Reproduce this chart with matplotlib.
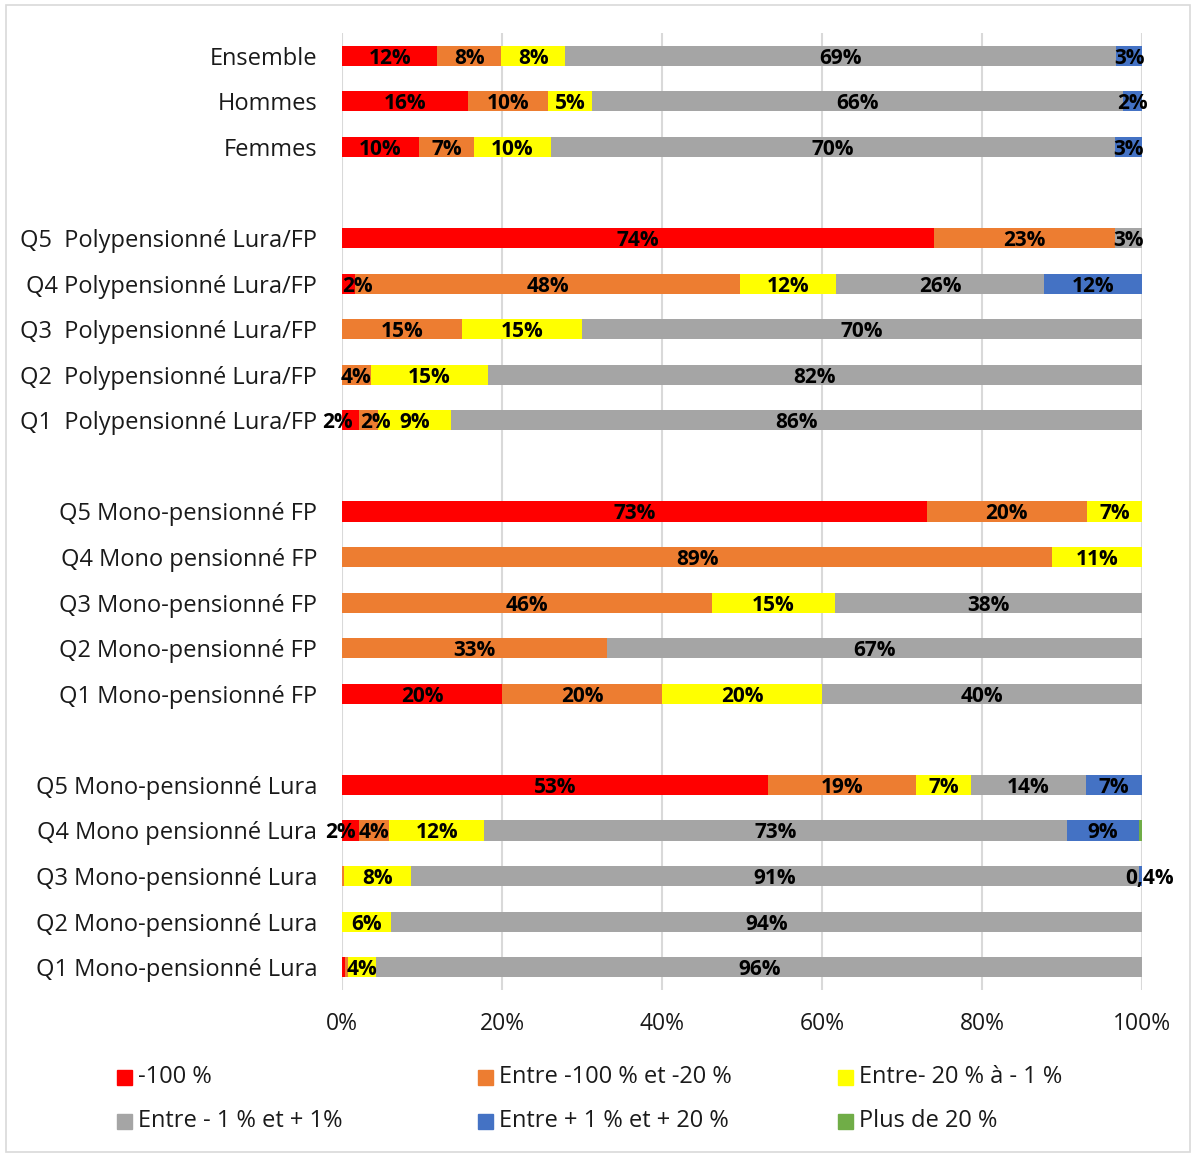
import matplotlib
matplotlib.use("Agg")
import matplotlib.pyplot as plt
from matplotlib.patches import Rectangle
import numpy as np

# categories, top to bottom ("" = spacer row between groups)
categories = [
    "Ensemble", "Hommes", "Femmes", "",
    "Q5  Polypensionné Lura/FP", "Q4 Polypensionné Lura/FP", "Q3  Polypensionné Lura/FP",
    "Q2  Polypensionné Lura/FP", "Q1  Polypensionné Lura/FP", "",
    "Q5 Mono-pensionné FP", "Q4 Mono pensionné FP", "Q3 Mono-pensionné FP",
    "Q2 Mono-pensionné FP", "Q1 Mono-pensionné FP", "",
    "Q5 Mono-pensionné Lura", "Q4 Mono pensionné Lura", "Q3 Mono-pensionné Lura",
    "Q2 Mono-pensionné Lura", "Q1 Mono-pensionné Lura",
]

series_names = ["-100 %", "Entre -100 % et -20 %", "Entre- 20 % à - 1 %",
                "Entre - 1 % et + 1%", "Entre + 1 % et + 20 %", "Plus de 20 %"]

moins_100 = [11.9, 15.7, 9.6, 0, 74.0, 1.6, 0, 0, 2.1, 0,
             73.1, 0, 0, 0, 20.0, 0, 53.2, 2.1, 0, 0, 0.4]
moins_100_20 = [8.0, 10.1, 6.9, 0, 22.6, 48.2, 15.0, 3.6, 2.4, 0,
                20.0, 88.8, 46.2, 33.1, 20.0, 0, 18.6, 3.8, 0.2, 0, 0.3]
moins_20_1 = [8.0, 5.4, 9.6, 0, 0, 12.0, 15.0, 14.6, 9.1, 0,
              6.9, 11.2, 15.4, 0, 20.0, 0, 6.8, 11.9, 8.4, 6.1, 3.6]
stable = [68.9, 66.4, 70.5, 0, 3.4, 25.9, 70.0, 81.8, 86.4, 0,
          0, 0, 38.4, 66.9, 40.0, 0, 14.4, 72.8, 91.0, 93.9, 95.7]
plus_1_20 = [3.2, 2.4, 3.4, 0, 0, 12.3, 0, 0, 0, 0,
             0, 0, 0, 0, 0, 0, 7.0, 9.0, 0.4, 0, 0]
plus_20 = [0, 0, 0, 0, 0, 0, 0, 0, 0, 0,
           0, 0, 0, 0, 0, 0, 0, 0.4, 0, 0, 0]

colors = ["#FF0000", "#ED7D31", "#FFFF00", "#A5A5A5", "#4472C4", "#70AD47"]

# labels shown with one decimal (row, series)
decimal_labels = {(18, 4)}
# nudges for crowded labels (row, series) -> shift in %
label_shift = {(8, 0): -1.6, (8, 1): 0.9, (17, 0): -1.2, (5, 0): 1.1, (18, 4): 1.2}

data = np.array([moins_100, moins_100_20, moins_20_1, stable, plus_1_20, plus_20])
y = np.arange(len(categories))

W, H = 1198, 1155
fig = plt.figure(figsize=(W / 100, H / 100), dpi=100)
ax = fig.add_axes([342 / W, 1 - 990 / H, 800 / W, 957 / H])

left = np.zeros(len(categories))
for s, (vals, col) in enumerate(zip(data, colors)):
    ax.barh(y, vals, left=left, height=0.44, color=col, zorder=2)
    for r, v in enumerate(vals):
        if v >= 1 or (r, s) in decimal_labels:
            if (r, s) in decimal_labels:
                txt = f"{v:.1f}".replace(".", ",") + "%"
            else:
                txt = f"{v:.0f}%"
            xc = left[r] + v / 2 + label_shift.get((r, s), 0)
            ax.text(xc, r, txt, ha="center", va="center_baseline", fontsize=15,
                    fontweight="bold", family="Open Sans", color="black", zorder=3)
    left += vals

ax.set_xlim(0, 100)
ax.set_ylim(len(categories) - 0.5, -0.5)
ax.set_yticks(y)
ax.set_yticklabels(categories, family="Open Sans", fontsize=17, color="#1a1a1a")
ax.set_xticks(np.arange(0, 101, 20))
ax.set_xticklabels([f"{t}%" for t in range(0, 101, 20)], family="Open Sans",
                   fontsize=16.5, color="#1a1a1a")
ax.tick_params(axis="both", length=0)
ax.tick_params(axis="y", pad=18)
ax.tick_params(axis="x", pad=16)
ax.grid(axis="x", color="#D9D9D9", linewidth=1.5, zorder=0)
for sp in ax.spines.values():
    sp.set_visible(False)

# legend laid out in two rows of three
col_x = [117, 478, 838]
row_y = [1077, 1121]
for i, (name, col) in enumerate(zip(series_names, colors)):
    cx, cy = col_x[i % 3], row_y[i // 3]
    fig.patches.append(Rectangle((cx / W, 1 - (cy + 8) / H), 15 / W, 15 / H,
                                 transform=fig.transFigure, color=col))
    fig.text((cx + 21) / W, 1 - cy / H, name, ha="left", va="center",
             fontsize=17, family="Open Sans", color="#1a1a1a")

# thin frame around the chart
fig.patches.append(Rectangle((6 / W, 1 - 1152 / H), 1184 / W, 1147 / H,
                             transform=fig.transFigure, fill=False,
                             edgecolor="#D9D9D9", linewidth=1.2))

fig.savefig("out.png", dpi=100)
